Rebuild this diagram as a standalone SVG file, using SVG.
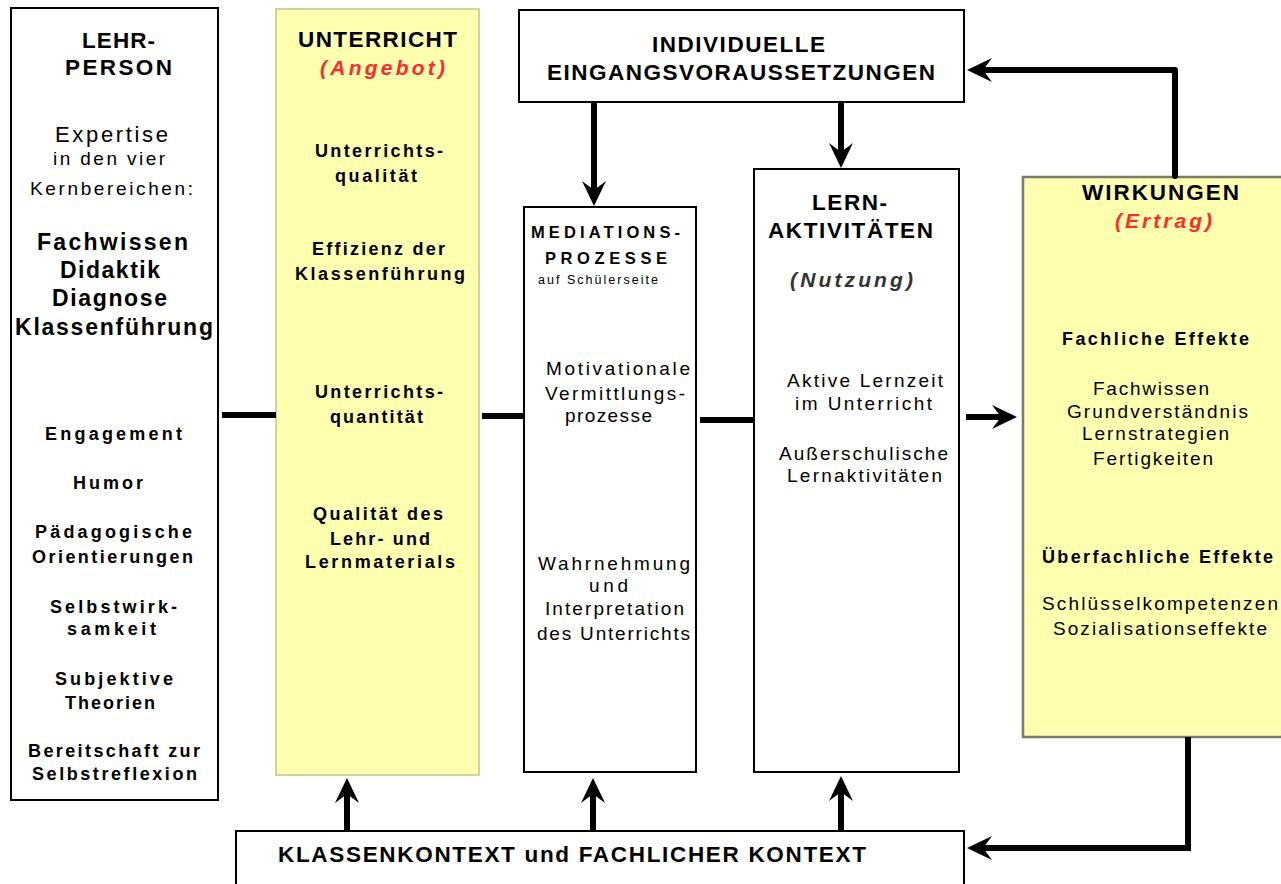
<svg xmlns="http://www.w3.org/2000/svg" width="1281" height="884" viewBox="0 0 1281 884">
<style>
text{font-family:"Liberation Sans",Arial,sans-serif;fill:#000;}
.h{font-size:22.5px;font-weight:bold;}
.hb{font-size:23px;font-weight:bold;}
.b{font-size:18px;font-weight:bold;}
.m{font-size:16.5px;font-weight:bold;}
.r{font-size:19px;}
.r20{font-size:22px;}
.s{font-size:12.5px;}
.red{font-size:21px;font-weight:bold;font-style:italic;fill:#ff2a2a;}
.gi{font-size:21px;font-weight:bold;font-style:italic;fill:#333;}
.box{fill:#fff;stroke:#000;stroke-width:2;}
.ybox{fill:#ffffb0;stroke:#d2d29a;stroke-width:2;}
.wbox{fill:#ffffb0;stroke:#7a7a66;stroke-width:2.5;}
.c{fill:none;stroke:#000;stroke-width:6;}
</style>
<defs>
<marker id="ah" markerUnits="userSpaceOnUse" markerWidth="30" markerHeight="30" refX="9" refY="0" orient="auto" overflow="visible">
<path d="M25,0 L0,-12 L9,0 L0,12 Z" fill="#000"/>
</marker>
</defs>

<g id="lehrperson">
<rect class="box" x="11" y="8" width="207" height="792"/>
<text class="h" x="82" y="48" textLength="73" lengthAdjust="spacing">LEHR-</text>
<text class="h" x="65" y="75" textLength="107" lengthAdjust="spacing">PERSON</text>
<text class="r20" x="55" y="142" textLength="113" lengthAdjust="spacing">Expertise</text>
<text class="r" x="53" y="165" textLength="112" lengthAdjust="spacing">in den vier</text>
<text class="r" x="30" y="195" textLength="163" lengthAdjust="spacing">Kernbereichen:</text>
<text class="hb" x="37" y="250" textLength="151" lengthAdjust="spacing">Fachwissen</text>
<text class="hb" x="60" y="278" textLength="100" lengthAdjust="spacing">Didaktik</text>
<text class="hb" x="52" y="306" textLength="115" lengthAdjust="spacing">Diagnose</text>
<text class="hb" x="15" y="335" textLength="198" lengthAdjust="spacing">Klassenführung</text>
<text class="b" x="45" y="440" textLength="137" lengthAdjust="spacing">Engagement</text>
<text class="b" x="73" y="489" textLength="70" lengthAdjust="spacing">Humor</text>
<text class="b" x="35" y="538" textLength="157" lengthAdjust="spacing">Pädagogische</text>
<text class="b" x="32" y="563" textLength="161" lengthAdjust="spacing">Orientierungen</text>
<text class="b" x="50" y="613" textLength="127" lengthAdjust="spacing">Selbstwirk-</text>
<text class="b" x="67" y="635" textLength="89" lengthAdjust="spacing">samkeit</text>
<text class="b" x="55" y="685" textLength="118" lengthAdjust="spacing">Subjektive</text>
<text class="b" x="65" y="709" textLength="90" lengthAdjust="spacing">Theorien</text>
<text class="b" x="28" y="757" textLength="172" lengthAdjust="spacing">Bereitschaft zur</text>
<text class="b" x="32" y="780" textLength="165" lengthAdjust="spacing">Selbstreflexion</text>
</g>

<g id="unterricht">
<rect class="ybox" x="276" y="9" width="203" height="766"/>
<text class="h" x="298" y="47" textLength="159" lengthAdjust="spacing">UNTERRICHT</text>
<text class="red" x="320" y="75" textLength="125" lengthAdjust="spacing">(Angebot)</text>
<text class="b" x="315" y="157" textLength="128" lengthAdjust="spacing">Unterrichts-</text>
<text class="b" x="335" y="182" textLength="82" lengthAdjust="spacing">qualität</text>
<text class="b" x="312" y="255" textLength="133" lengthAdjust="spacing">Effizienz der</text>
<text class="b" x="295" y="280" textLength="170" lengthAdjust="spacing">Klassenführung</text>
<text class="b" x="315" y="398" textLength="128" lengthAdjust="spacing">Unterrichts-</text>
<text class="b" x="330" y="423" textLength="93" lengthAdjust="spacing">quantität</text>
<text class="b" x="313" y="520" textLength="130" lengthAdjust="spacing">Qualität des</text>
<text class="b" x="330" y="545" textLength="100" lengthAdjust="spacing">Lehr- und</text>
<text class="b" x="305" y="568" textLength="150" lengthAdjust="spacing">Lernmaterials</text>
</g>

<g id="eingang">
<rect class="box" x="519" y="10" width="445" height="92"/>
<text class="h" x="652" y="52" textLength="173" lengthAdjust="spacing">INDIVIDUELLE</text>
<text class="h" x="547" y="80" textLength="388" lengthAdjust="spacing">EINGANGSVORAUSSETZUNGEN</text>
</g>

<g id="mediation">
<rect class="box" x="524" y="207" width="172" height="565"/>
<text class="m" x="531" y="238" textLength="149" lengthAdjust="spacing">MEDIATIONS-</text>
<text class="m" x="545" y="264" textLength="122" lengthAdjust="spacing">PROZESSE</text>
<text class="s" x="538" y="284" textLength="120" lengthAdjust="spacing">auf Schülerseite</text>
<text class="r" x="546" y="375" textLength="144" lengthAdjust="spacing">Motivationale</text>
<text class="r" x="545" y="400" textLength="140" lengthAdjust="spacing">Vermittlungs-</text>
<text class="r" x="565" y="422" textLength="87" lengthAdjust="spacing">prozesse</text>
<text class="r" x="538" y="570" textLength="152" lengthAdjust="spacing">Wahrnehmung</text>
<text class="r" x="589" y="592" textLength="39" lengthAdjust="spacing">und</text>
<text class="r" x="545" y="615" textLength="139" lengthAdjust="spacing">Interpretation</text>
<text class="r" x="537" y="640" textLength="153" lengthAdjust="spacing">des Unterrichts</text>
</g>

<g id="lernaktivitaeten">
<rect class="box" x="754" y="169" width="205" height="603"/>
<text class="h" x="812" y="210" textLength="75" lengthAdjust="spacing">LERN-</text>
<text class="h" x="768" y="238" textLength="165" lengthAdjust="spacing">AKTIVITÄTEN</text>
<text class="gi" x="790" y="287" textLength="123" lengthAdjust="spacing">(Nutzung)</text>
<text class="r" x="787" y="387" textLength="156" lengthAdjust="spacing">Aktive Lernzeit</text>
<text class="r" x="795" y="410" textLength="137" lengthAdjust="spacing">im Unterricht</text>
<text class="r" x="779" y="460" textLength="169" lengthAdjust="spacing">Außerschulische</text>
<text class="r" x="787" y="482" textLength="155" lengthAdjust="spacing">Lernaktivitäten</text>
</g>

<g id="wirkungen">
<rect class="wbox" x="1023" y="177" width="280" height="560"/>
<text class="h" x="1082" y="200" textLength="157" lengthAdjust="spacing">WIRKUNGEN</text>
<text class="red" x="1115" y="228" textLength="97" lengthAdjust="spacing">(Ertrag)</text>
<text class="b" x="1062" y="345" textLength="187" lengthAdjust="spacing">Fachliche Effekte</text>
<text class="r" x="1093" y="395" textLength="116" lengthAdjust="spacing">Fachwissen</text>
<text class="r" x="1067" y="418" textLength="181" lengthAdjust="spacing">Grundverständnis</text>
<text class="r" x="1082" y="440" textLength="147" lengthAdjust="spacing">Lernstrategien</text>
<text class="r" x="1093" y="465" textLength="120" lengthAdjust="spacing">Fertigkeiten</text>
<text class="b" x="1042" y="563" textLength="231" lengthAdjust="spacing">Überfachliche Effekte</text>
<text class="r" x="1042" y="610" textLength="236" lengthAdjust="spacing">Schlüsselkompetenzen</text>
<text class="r" x="1053" y="635" textLength="214" lengthAdjust="spacing">Sozialisationseffekte</text>
</g>

<g id="kontext">
<rect class="box" x="236" y="831" width="728" height="70"/>
<text class="h" x="278" y="862" textLength="588" lengthAdjust="spacing">KLASSENKONTEXT und FACHLICHER KONTEXT</text>
</g>

<g id="connectors">
<line class="c" x1="222" y1="415" x2="276" y2="415"/>
<line class="c" x1="482" y1="416" x2="524" y2="416"/>
<line class="c" x1="700" y1="420" x2="754" y2="420"/>
<line class="c" x1="966" y1="417" x2="1001" y2="417" marker-end="url(#ah)"/>
<line class="c" x1="594" y1="102" x2="594" y2="190" marker-end="url(#ah)"/>
<line class="c" x1="841" y1="102" x2="841" y2="152" marker-end="url(#ah)"/>
<polyline class="c" stroke-linejoin="round" stroke-linecap="round" points="1175,176 1175,70 983,70" marker-end="url(#ah)"/>
<polyline class="c" points="1188,737 1188,848 983,848" marker-end="url(#ah)"/>
<line class="c" x1="347" y1="831" x2="347" y2="794" marker-end="url(#ah)"/>
<line class="c" x1="593" y1="831" x2="593" y2="794" marker-end="url(#ah)"/>
<line class="c" x1="841" y1="831" x2="841" y2="792" marker-end="url(#ah)"/>
</g>
</svg>
